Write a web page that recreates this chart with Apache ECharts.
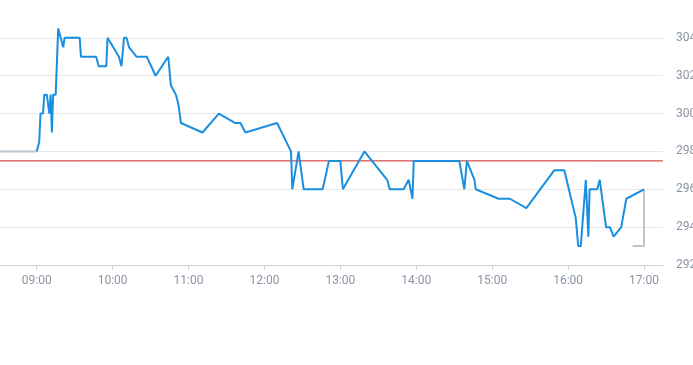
<!DOCTYPE html>
<html>
<head>
<meta charset="utf-8">
<script src="https://cdn.jsdelivr.net/npm/echarts@6/dist/echarts.min.js"></script>
<style>html,body{margin:0;padding:0;background:#fff}#c{width:693px;height:365px}</style>
</head>
<body>
<div id="c"></div>
<script>
var tradeTimes = ["09:00","09:02","09:03","09:05","09:06","09:08","09:10","09:11","09:12","09:13","09:15","09:17","09:21","09:22","09:34","09:35","09:47","09:49","09:55","09:56","10:05","10:07","10:09","10:11","10:13","10:19","10:27","10:34","10:44","10:46","10:50","10:52","10:54","11:11","11:24","11:37","11:41","11:45","12:10","12:11","12:21","12:22","12:27","12:31","12:46","12:51","13:00","13:02","13:19","13:37","13:39","13:50","13:54","13:57","13:58","14:34","14:38","14:40","14:46","14:47","15:05","15:14","15:27","15:49","15:57","16:06","16:08","16:10","16:14","16:16","16:17","16:23","16:25","16:30","16:33","16:36","16:42","16:46","17:00"];
var tradePrices = [298,298.5,300,300,301,301,300,301,299,301,301,304.5,303.5,304,304,303,303,302.5,302.5,304,303,302.5,304,304,303.5,303,303,302,303,301.5,301,300.5,299.5,299,300,299.5,299.5,299,299.5,299.5,298,296,298,296,296,297.5,297.5,296,298,296.5,296,296,296.5,295.5,297.5,297.5,296,297.5,296.5,296,295.5,295.5,295,297,297,294.5,293,293,296.5,293.5,296,296,296.5,294,294,293.5,294,295.5,296];
var preTimes = ["08:31","09:00"];
var prePrices = [298,298];
var postTimes = ["16:51","17:00","17:00"];
var postPrices = [293,293,296];
var refPrice = 297.5;
var refTimes = ["08:31","17:15"];
var hourTicks = ["09:00","10:00","11:00","12:00","13:00","14:00","15:00","16:00","17:00"];
var yTicks = [292,294,296,298,300,302,304];

function toMin(s){var p=s.split(":");return +p[0]*60 + +p[1];}
function fmt(m){var h=Math.floor(m/60),mm=Math.round(m%60);return (h<10?"0":"")+h+":"+(mm<10?"0":"")+mm;}
function pairs(t,v){return t.map(function(x,i){return [toMin(x),v[i]];});}
var tickVals = hourTicks.map(toMin);

var chart = echarts.init(document.getElementById('c'));
chart.setOption({
  animation:false,
  grid:{left:0,right:30,top:0,bottom:100,containLabel:false,outerBoundsMode:'none'},
  xAxis:{
    type:'value',min:toMin(refTimes[0]),max:toMin(refTimes[1]),
    axisLine:{lineStyle:{color:'#cdd3dd'}},
    axisTick:{customValues:tickVals,length:5,lineStyle:{color:'#cdd3dd'}},
    axisLabel:{customValues:tickVals,formatter:function(v){return fmt(v);},color:'#8a94a6',fontSize:12,margin:10,fontFamily:'Roboto, sans-serif'},
    splitLine:{show:false}
  },
  yAxis:{
    type:'value',position:'right',min:292,max:306,interval:2,
    axisLine:{show:false},axisTick:{show:false},
    axisLabel:{color:'#8a94a6',fontSize:12,margin:13,fontFamily:'Roboto, sans-serif',showMaxLabel:false},
    splitLine:{show:true,showMaxLine:false,lineStyle:{color:'#e6e8ec'}}
  },
  series:[
    {type:'line',data:refTimes.map(function(t){return [toMin(t),refPrice];}),symbol:'none',lineStyle:{color:'#c9231d',width:1},z:1},
    {type:'line',data:pairs(preTimes,prePrices),symbol:'none',lineStyle:{color:'#bcc6cf',width:2},z:2},
    {type:'line',data:pairs(postTimes,postPrices),symbol:'none',lineStyle:{color:'#bcc6cf',width:2},z:2},
    {type:'line',data:pairs(tradeTimes,tradePrices),symbol:'none',lineStyle:{color:'#1a8fe0',width:2},z:3}
  ]
});
</script>
</body>
</html>
